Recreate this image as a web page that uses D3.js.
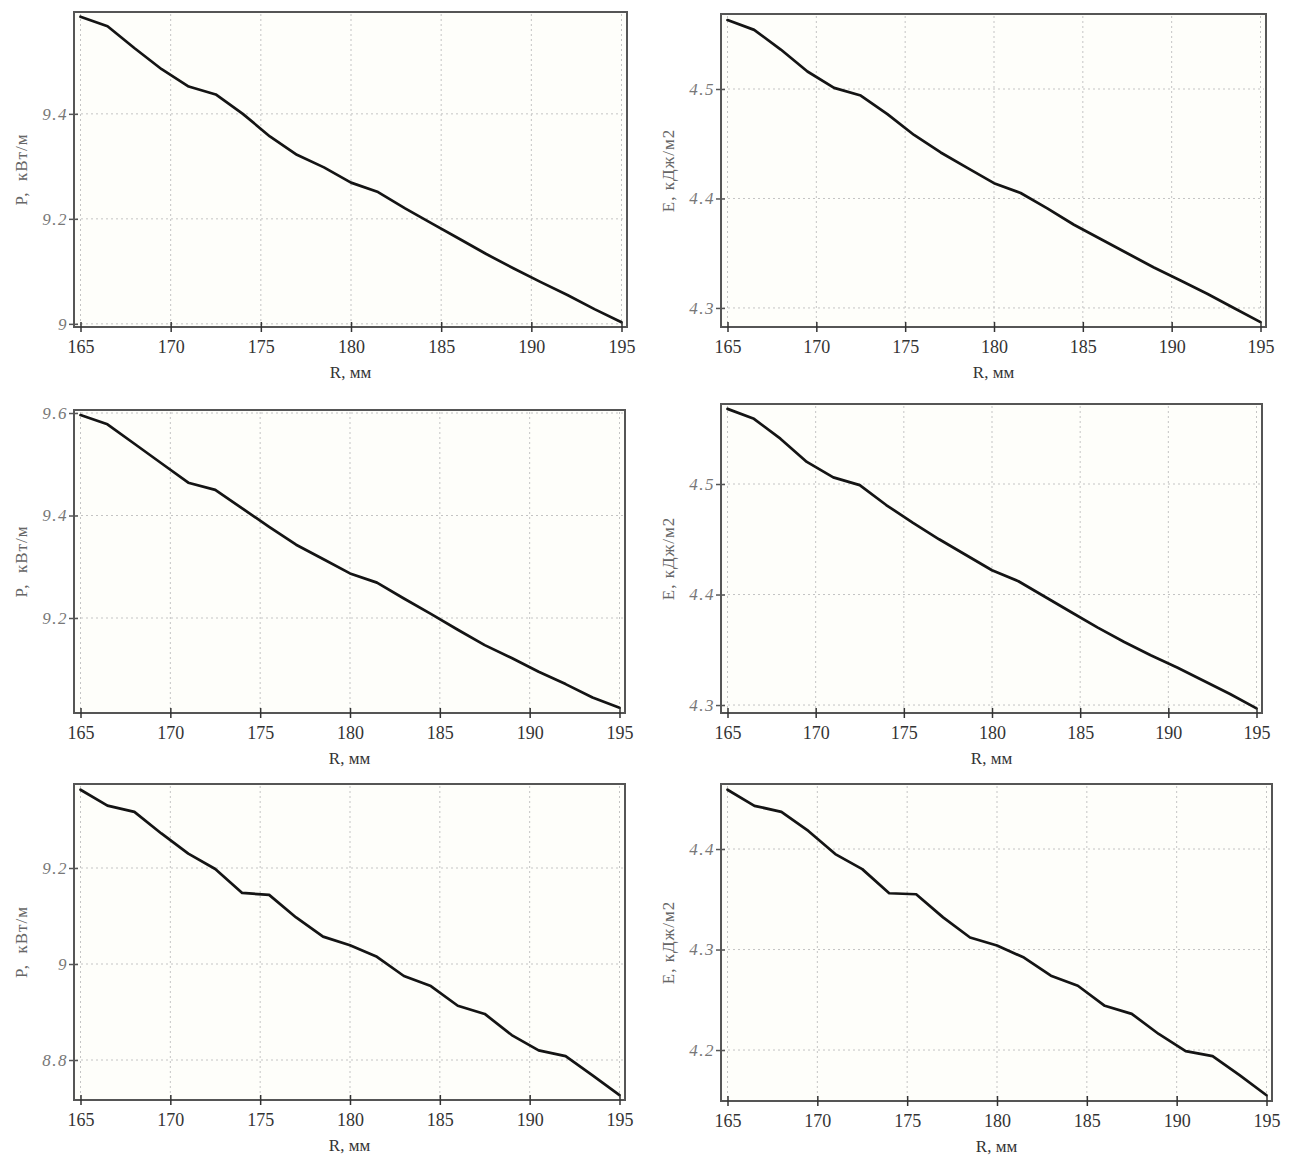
<!DOCTYPE html>
<html><head><meta charset="utf-8">
<script src="https://cdn.jsdelivr.net/npm/d3@7"></script>
<style>
body{margin:0;background:#fff;}
svg{display:block;}
</style>
</head><body>
<svg id="c" width="1299" height="1155"></svg>
<script>
// ---- data ----
const R = [165,166.5,168,169.5,171,172.5,174,175.5,177,178.5,180,181.5,183,184.5,186,187.5,189,190.5,192,193.5,195];
const xTicks = [165,170,175,180,185,190,195];

const P_top = [9.585,9.567,9.525,9.485,9.452,9.437,9.400,9.357,9.322,9.298,9.269,9.251,9.220,9.191,9.162,9.133,9.106,9.080,9.055,9.028,9.003];
const E_top = [4.563,4.554,4.536,4.516,4.501,4.494,4.477,4.458,4.442,4.428,4.414,4.405,4.391,4.376,4.363,4.350,4.337,4.325,4.313,4.300,4.287];
const P_mid = [9.596,9.578,9.540,9.502,9.464,9.450,9.414,9.378,9.343,9.315,9.287,9.269,9.238,9.208,9.177,9.147,9.122,9.095,9.071,9.045,9.025];
const E_mid = [4.568,4.559,4.541,4.520,4.506,4.499,4.481,4.465,4.450,4.436,4.422,4.412,4.398,4.384,4.370,4.357,4.345,4.334,4.322,4.310,4.297];
const P_bot = [9.363,9.330,9.317,9.272,9.230,9.198,9.148,9.144,9.097,9.057,9.039,9.015,8.975,8.954,8.913,8.896,8.852,8.820,8.808,8.768,8.727];
const E_bot = [4.459,4.443,4.437,4.418,4.395,4.380,4.356,4.355,4.332,4.312,4.304,4.292,4.274,4.264,4.244,4.236,4.216,4.199,4.194,4.175,4.155];

const yTicks_P_top = [9, 9.2, 9.4];
const yTicks_E_top = [4.3, 4.4, 4.5];
const yTicks_P_mid = [9.2, 9.4, 9.6];
const yTicks_E_mid = [4.3, 4.4, 4.5];
const yTicks_P_bot = [8.8, 9, 9.2];
const yTicks_E_bot = [4.2, 4.3, 4.4];

const xTitle = "R, мм";
const yTitleP = "P,  кВт/м";
const yTitleE = "E, кДж/м2";

// ---- layout ----
const panels = [
  {x0:74,  y0:12,  x1:627,  y1:327,  yDom:[8.994,9.594],  vals:P_top, ticks:yTicks_P_top, title:yTitleP},
  {x0:721, y0:14,  x1:1266, y1:327,  yDom:[4.2826,4.5685], vals:E_top, ticks:yTicks_E_top, title:yTitleE},
  {x0:74,  y0:410, x1:625,  y1:713,  yDom:[9.0146,9.6059], vals:P_mid, ticks:yTicks_P_mid, title:yTitleP},
  {x0:721, y0:404, x1:1262, y1:713,  yDom:[4.2928,4.5724], vals:E_mid, ticks:yTicks_E_mid, title:yTitleE},
  {x0:74,  y0:784, x1:625,  y1:1100, yDom:[8.7167,9.375],  vals:P_bot, ticks:yTicks_P_bot, title:yTitleP},
  {x0:721, y0:784, x1:1272, y1:1101, yDom:[4.1493,4.4647], vals:E_bot, ticks:yTicks_E_bot, title:yTitleE}
];

const svg = d3.select("#c");
svg.append("rect").attr("width",1299).attr("height",1155).attr("fill","#ffffff");

panels.forEach(p => {
  const g = svg.append("g");
  const x = d3.scaleLinear().domain([165,195]).range([p.x0+6.5, p.x1-5.5]);
  const y = d3.scaleLinear().domain(p.yDom).range([p.y1, p.y0]);

  g.append("rect").attr("x",p.x0).attr("y",p.y0)
    .attr("width",p.x1-p.x0).attr("height",p.y1-p.y0)
    .attr("fill","#fefefa");

  // grid
  g.selectAll(".vg").data(xTicks).join("line")
    .attr("x1",d=>x(d)).attr("x2",d=>x(d)).attr("y1",p.y0+2).attr("y2",p.y1-2)
    .attr("stroke","#c4c4c4").attr("stroke-width",1).attr("stroke-dasharray","2,3");
  g.selectAll(".hg").data(p.ticks).join("line")
    .attr("x1",p.x0+2).attr("x2",p.x1-2).attr("y1",d=>y(d)).attr("y2",d=>y(d))
    .attr("stroke","#c4c4c4").attr("stroke-width",1).attr("stroke-dasharray","2,3");

  // curve
  const line = d3.line().x((d,i)=>x(R[i])).y(d=>y(d));
  g.append("path").datum(p.vals).attr("d",line)
    .attr("fill","none").attr("stroke","#141414").attr("stroke-width",2.7)
    .attr("stroke-linejoin","round").attr("stroke-linecap","round");

  // frame
  g.append("rect").attr("x",p.x0).attr("y",p.y0)
    .attr("width",p.x1-p.x0).attr("height",p.y1-p.y0)
    .attr("fill","none").attr("stroke","#555").attr("stroke-width",2);

  // x axis
  const xa = g.append("g").attr("transform",`translate(0,${p.y1})`)
    .call(d3.axisBottom(x).tickValues(xTicks).tickSize(5).tickPadding(8).tickFormat(d=>String(d)));
  xa.select(".domain").remove();
  xa.selectAll("line").attr("stroke","#333").attr("stroke-width",1.5).attr("y1",-5);
  xa.selectAll("text").attr("fill","#333").style("font-family","'Liberation Serif', 'DejaVu Serif', serif").style("font-size","18px");

  // y axis
  const ya = g.append("g").attr("transform",`translate(${p.x0},0)`)
    .call(d3.axisLeft(y).tickValues(p.ticks).tickSize(5).tickPadding(1).tickFormat(d=>String(d)));
  ya.select(".domain").remove();
  ya.selectAll("line").attr("stroke","#555").attr("stroke-width",1.5).attr("x1",4);
  ya.selectAll("text").attr("fill","#777")
    .style("font-family","'Liberation Serif', serif").style("font-style","italic")
    .style("font-size","17px").style("letter-spacing","1.5px");

  // titles
  g.append("text").attr("x",(p.x0+p.x1)/2).attr("y",p.y1+51)
    .attr("text-anchor","middle").attr("fill","#333")
    .style("font-family","'Liberation Serif', serif").style("font-size","17px")
    .text(xTitle);
  const cy = (p.y0+p.y1)/2;
  const tx = p.x0 - 47;
  g.append("text").attr("transform",`translate(${tx},${cy}) rotate(-90)`)
    .attr("text-anchor","middle").attr("fill","#666")
    .style("font-family","'Liberation Serif', serif").style("font-size","17px")
    .style("letter-spacing","1px").style("white-space","pre")
    .text(p.title);
});
</script>
</body></html>
